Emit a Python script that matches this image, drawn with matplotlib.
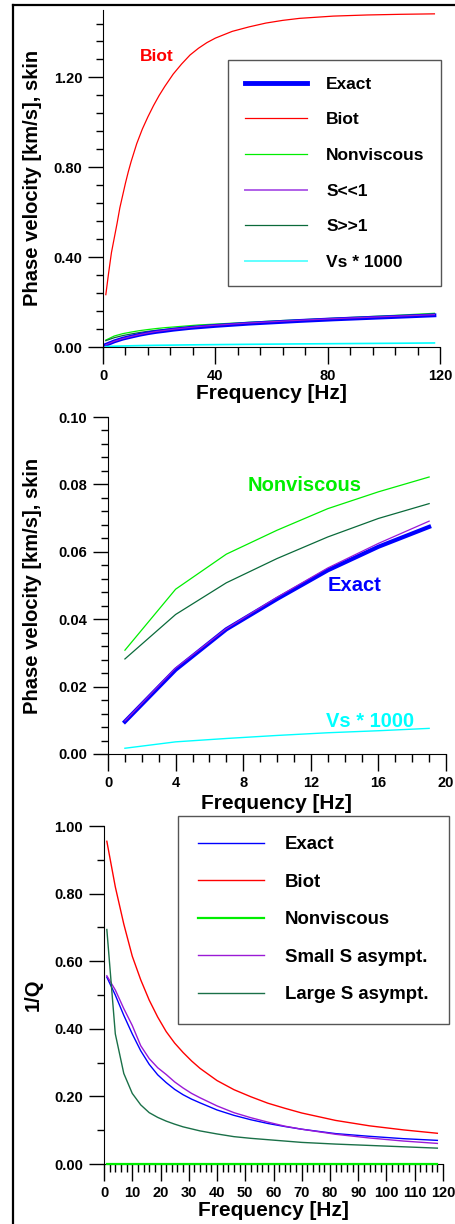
import numpy as np
import matplotlib
matplotlib.use('Agg')
import matplotlib.pyplot as plt
from matplotlib.ticker import MultipleLocator, FormatStrFormatter
from matplotlib.lines import Line2D

plt.rcParams['font.family'] = ['Liberation Sans', 'DejaVu Sans']
plt.rcParams['font.weight'] = 'bold'

# frequency samples [Hz]
freq = [1, 4, 7, 10, 13, 16, 19, 22, 25, 28, 31, 34, 40, 46, 52, 58, 64, 70, 82, 94, 106, 118]

# phase velocity [km/s]
v_exact = [0.0096, 0.025, 0.037, 0.046, 0.0545, 0.0615, 0.0674, 0.072, 0.077, 0.081, 0.085, 0.088,
           0.094, 0.099, 0.104, 0.108, 0.112, 0.116, 0.123, 0.129, 0.135, 0.141]
v_nonvisc = [0.0308, 0.0489, 0.0593, 0.0664, 0.0728, 0.0778, 0.0822, 0.086, 0.089, 0.092, 0.095, 0.098,
             0.102, 0.106, 0.110, 0.114, 0.118, 0.121, 0.128, 0.135, 0.142, 0.150]
v_small = [0.0098, 0.0255, 0.0372, 0.0465, 0.0552, 0.0625, 0.0691, 0.074, 0.079, 0.083, 0.087, 0.091,
           0.097, 0.102, 0.107, 0.111, 0.115, 0.119, 0.126, 0.132, 0.138, 0.144]
v_large = [0.0282, 0.0414, 0.0508, 0.058, 0.0644, 0.0699, 0.0743, 0.078, 0.082, 0.085, 0.088, 0.091,
           0.096, 0.101, 0.105, 0.109, 0.113, 0.117, 0.124, 0.131, 0.138, 0.146]
v_s1000 = [0.0017, 0.0036, 0.0046, 0.0055, 0.0063, 0.0069, 0.0076, 0.008, 0.0085, 0.009, 0.0095, 0.0099,
           0.0106, 0.0113, 0.012, 0.0126, 0.0132, 0.0138, 0.0148, 0.0158, 0.0168, 0.018]

# Biot velocity is sampled finer
freq_biot = [1, 2, 3, 4, 5, 6, 7, 8, 9, 10, 12, 14, 16, 18, 20, 22, 25, 28, 31, 34, 37, 40,
             46, 52, 58, 64, 70, 82, 94, 106, 118]
v_biot = [0.233, 0.33, 0.42, 0.485, 0.55, 0.62, 0.675, 0.73, 0.78, 0.825, 0.905, 0.97, 1.025,
          1.075, 1.12, 1.16, 1.215, 1.26, 1.30, 1.33, 1.355, 1.375, 1.405, 1.425, 1.442,
          1.454, 1.463, 1.473, 1.478, 1.481, 1.483]

# 1/Q
q_exact = [0.553, 0.50, 0.44, 0.385, 0.335, 0.295, 0.264, 0.241, 0.221, 0.205, 0.192, 0.181,
           0.160, 0.144, 0.131, 0.120, 0.111, 0.103, 0.090, 0.082, 0.075, 0.070]
q_biot = [0.955, 0.82, 0.71, 0.615, 0.545, 0.485, 0.435, 0.392, 0.358, 0.330, 0.305, 0.283,
          0.247, 0.220, 0.199, 0.180, 0.165, 0.151, 0.129, 0.113, 0.101, 0.091]
q_nonvisc = [0.0] * 22
q_small = [0.557, 0.515, 0.46, 0.41, 0.35, 0.312, 0.285, 0.265, 0.243, 0.225, 0.209, 0.196,
           0.172, 0.152, 0.137, 0.124, 0.112, 0.103, 0.088, 0.077, 0.068, 0.061]
q_large = [0.694, 0.385, 0.268, 0.209, 0.175, 0.152, 0.138, 0.127, 0.118, 0.110, 0.104, 0.098,
           0.089, 0.081, 0.076, 0.072, 0.068, 0.064, 0.059, 0.055, 0.051, 0.047]

n2 = 7  # zoomed panel: first points up to 19 Hz

c_blue = '#0000ff'
c_red = '#ff0000'
c_green = '#00ee00'
c_purple = '#9a1ad6'
c_dgreen = '#0a6a3a'
c_cyan = '#00ffff'


def style_axes(ax):
    ax.spines['top'].set_visible(False)
    ax.spines['right'].set_visible(False)
    ax.tick_params(which='major', direction='out', length=11, width=1, labelsize=10.5, pad=4)
    ax.tick_params(which='minor', direction='out', length=5, width=1)
    ax.tick_params(axis='x', which='major', length=12, pad=3.5)
    ax.tick_params(axis='x', which='minor', length=6)
    for lab in ax.get_xticklabels() + ax.get_yticklabels():
        lab.set_fontweight('bold')


fig = plt.figure(figsize=(4.55, 12.24), dpi=100)

# ---------------- panel 1
ax1 = fig.add_axes([0.2264, 0.7165, 0.7407, 0.2753])
ax1.plot(freq_biot, v_biot, color=c_red, lw=0.9)
ax1.plot(freq, v_nonvisc, color=c_green, lw=0.9)
ax1.plot(freq, v_large, color=c_dgreen, lw=0.9)
ax1.plot(freq, v_exact, color=c_blue, lw=2.8)
ax1.plot(freq, v_small, color=c_purple, lw=0.9)
ax1.plot(freq, v_s1000, color=c_cyan, lw=1.2)
ax1.set_xlim(0, 120)
ax1.set_ylim(0, 1.5)
ax1.xaxis.set_major_locator(MultipleLocator(40))
ax1.xaxis.set_minor_locator(MultipleLocator(8))
ax1.yaxis.set_major_locator(MultipleLocator(0.4))
ax1.yaxis.set_minor_locator(MultipleLocator(0.08))
ax1.yaxis.set_major_formatter(FormatStrFormatter('%.2f'))
style_axes(ax1)
ax1.text(19.2, 1.293, 'Biot', color=c_red, fontsize=12.5, fontweight='bold', ha='center', va='center')
h1 = [Line2D([], [], color=c_blue, lw=3.5),
      Line2D([], [], color=c_red, lw=0.9),
      Line2D([], [], color=c_green, lw=0.9),
      Line2D([], [], color='#b060e8', lw=1.4),
      Line2D([], [], color=c_dgreen, lw=0.9),
      Line2D([], [], color='#60ffff', lw=1.4)]
leg1 = ax1.legend(h1, ['Exact', 'Biot', 'Nonviscous', 'S<<1', 'S>>1', 'Vs * 1000'],
                  loc='upper left', bbox_to_anchor=(0.371, 0.8516), borderaxespad=0,
                  prop={'size': 12.5, 'weight': 'bold'}, handlelength=3.6, handletextpad=1.1,
                  labelspacing=1.18, borderpad=0.95, fancybox=False, framealpha=1)
leg1.get_frame().set_edgecolor('#555555')
leg1.get_frame().set_linewidth(1.0)
ax1.set_xlabel('Frequency [Hz]', fontsize=15, fontweight='bold')
ax1.set_ylabel('Phase velocity [km/s], skin', fontsize=14.5, fontweight='bold')
ax1.xaxis.set_label_coords(0.4985, -0.138)
ax1.xaxis.label.set_va('center')
ax1.yaxis.set_label_coords(-0.208, 0.503)
ax1.yaxis.label.set_va('center')

# ---------------- panel 2
ax2 = fig.add_axes([0.2374, 0.3840, 0.7429, 0.2753])
ax2.plot(freq[:n2], v_nonvisc[:n2], color=c_green, lw=0.9)
ax2.plot(freq[:n2], v_large[:n2], color=c_dgreen, lw=0.9)
ax2.plot(freq[:n2], v_exact[:n2], color=c_blue, lw=3.0)
ax2.plot(freq[:n2], v_small[:n2], color=c_purple, lw=0.9)
ax2.plot(freq[:n2], v_s1000[:n2], color=c_cyan, lw=1.0)
ax2.set_xlim(0, 20)
ax2.set_ylim(0, 0.1)
ax2.xaxis.set_major_locator(MultipleLocator(4))
ax2.xaxis.set_minor_locator(MultipleLocator(1))
ax2.yaxis.set_major_locator(MultipleLocator(0.02))
ax2.yaxis.set_minor_locator(MultipleLocator(0.004))
ax2.yaxis.set_major_formatter(FormatStrFormatter('%.2f'))
style_axes(ax2)
ax2.text(11.64, 0.0796, 'Nonviscous', color=c_green, fontsize=14.5, fontweight='bold', ha='center', va='center')
ax2.text(14.6, 0.0499, 'Exact', color=c_blue, fontsize=14.5, fontweight='bold', ha='center', va='center')
ax2.text(15.49, 0.0096, 'Vs * 1000', color=c_cyan, fontsize=14.5, fontweight='bold', ha='center', va='center')
ax2.set_xlabel('Frequency [Hz]', fontsize=15, fontweight='bold')
ax2.set_ylabel('Phase velocity [km/s], skin', fontsize=14.5, fontweight='bold')
ax2.xaxis.set_label_coords(0.499, -0.147)
ax2.xaxis.label.set_va('center')
ax2.yaxis.set_label_coords(-0.222, 0.4985)
ax2.yaxis.label.set_va('center')

# ---------------- panel 3
ax3 = fig.add_axes([0.2286, 0.0490, 0.7450, 0.2761])
ax3.plot(freq, q_exact, color=c_blue, lw=1.0, label='Exact')
ax3.plot(freq, q_biot, color=c_red, lw=1.0, label='Biot')
ax3.plot(freq, q_nonvisc, color=c_green, lw=1.6, label='Nonviscous', clip_on=False, zorder=4)
ax3.plot(freq, q_small, color=c_purple, lw=1.0, label='Small S asympt.')
ax3.plot(freq, q_large, color='#1a7048', lw=1.0, label='Large S asympt.')
ax3.set_xlim(0, 120)
ax3.set_ylim(0, 1.0)
ax3.xaxis.set_major_locator(MultipleLocator(10))
ax3.xaxis.set_minor_locator(MultipleLocator(2))
ax3.yaxis.set_major_locator(MultipleLocator(0.2))
ax3.yaxis.set_minor_locator(MultipleLocator(0.1))
ax3.yaxis.set_major_formatter(FormatStrFormatter('%.2f'))
style_axes(ax3)
leg3 = ax3.legend(loc='upper left', bbox_to_anchor=(0.218, 1.0305), borderaxespad=0,
                  prop={'size': 13.4, 'weight': 'bold'}, handlelength=3.5, handletextpad=1.13,
                  labelspacing=1.1, borderpad=1.1, fancybox=False, framealpha=1)
leg3.get_frame().set_edgecolor('#555555')
leg3.get_frame().set_linewidth(1.0)
ax3.set_xlabel('Frequency [Hz]', fontsize=15, fontweight='bold')
ax3.set_ylabel('1/Q', fontsize=14.5, fontweight='bold')
ax3.xaxis.set_label_coords(0.4985, -0.138)
ax3.xaxis.label.set_va('center')
ax3.yaxis.set_label_coords(-0.209, 0.5)
ax3.yaxis.label.set_va('center')

# outer frame (left and top edges)
fig.add_artist(Line2D([0.0286, 0.0286], [0.0, 0.9959], color='black', lw=1.6, transform=fig.transFigure))
fig.add_artist(Line2D([0.0286, 1.0], [0.9959, 0.9959], color='black', lw=1.6, transform=fig.transFigure))

fig.savefig('out.png', dpi=100)
plt.close()
